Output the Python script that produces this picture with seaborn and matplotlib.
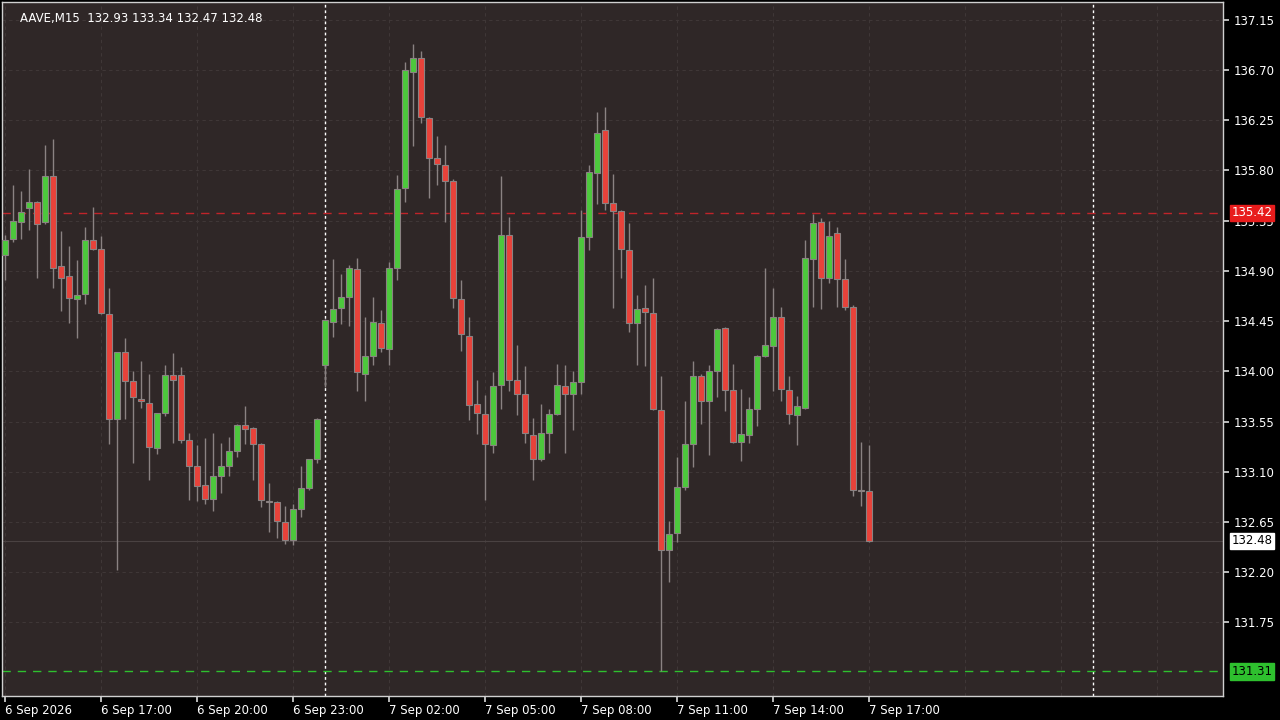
import numpy as np
import pandas as pd
import matplotlib
matplotlib.use("Agg")
import matplotlib.pyplot as plt
import seaborn as sns

# 15-minute candles, 6 Sep 2026 14:00 .. 7 Sep 2026 17:00
opens = [135.04, 135.19, 135.34, 135.46, 135.52, 135.34, 135.75, 134.94, 134.85, 134.65,
         134.69, 135.18, 135.10, 134.51, 133.57, 134.17, 133.91, 133.75, 133.72, 133.31,
         133.63, 133.97, 133.97, 133.38, 133.15, 132.98, 132.86, 133.06, 133.15, 133.29,
         133.52, 133.49, 133.35, 132.84, 132.83, 132.65, 132.49, 132.77, 132.95, 133.21,
         134.06, 134.44, 134.57, 134.67, 134.92, 133.98, 134.14, 134.43, 134.20, 134.93,
         135.64, 136.68, 136.81, 136.27, 135.91, 135.85, 135.71, 134.65, 134.32, 133.71,
         133.62, 133.34, 133.88, 135.22, 133.92, 133.80, 133.43, 133.21, 133.45, 133.62,
         133.87, 133.80, 133.90, 135.20, 135.78, 136.16, 135.51, 135.44, 135.09, 134.43,
         134.57, 134.52, 133.65, 132.40, 132.55, 132.96, 133.35, 133.96, 133.73, 134.00,
         134.39, 133.83, 133.37, 133.43, 133.66, 134.14, 134.23, 134.49, 133.83, 133.61,
         133.67, 135.01, 135.34, 134.84, 135.24, 134.83, 134.58, 132.94, 132.93]
highs = [135.22, 135.67, 135.62, 135.81, 135.53, 136.03, 136.08, 135.26, 135.12, 135.00,
         135.29, 135.47, 135.21, 134.75, 134.17, 134.30, 134.00, 134.09, 133.98, 133.63,
         134.06, 134.16, 134.04, 133.45, 133.34, 133.40, 133.45, 133.36, 133.41, 133.53,
         133.69, 133.50, 133.36, 133.00, 132.84, 132.79, 132.81, 133.15, 132.96, 133.58,
         134.47, 135.01, 134.87, 134.95, 135.02, 134.49, 134.67, 134.55, 134.98, 135.76,
         136.77, 136.93, 136.87, 136.28, 136.11, 136.03, 135.72, 134.82, 134.49, 133.92,
         133.79, 133.99, 135.75, 135.38, 134.24, 134.05, 133.58, 133.71, 133.66, 134.07,
         134.06, 134.00, 135.45, 135.85, 136.32, 136.37, 135.77, 135.45, 135.33, 134.68,
         134.77, 134.84, 133.96, 132.66, 133.23, 133.73, 134.09, 133.98, 134.06, 134.39,
         134.40, 134.07, 133.84, 133.77, 134.15, 134.93, 134.75, 134.58, 133.96, 133.78,
         135.18, 135.41, 135.37, 135.35, 135.29, 135.01, 134.59, 133.37, 133.34]
lows = [134.82, 135.16, 135.19, 135.27, 134.84, 135.32, 134.75, 134.54, 134.43, 134.30,
        134.60, 135.09, 134.51, 133.35, 132.22, 133.57, 133.18, 133.67, 133.03, 133.26,
        133.60, 133.36, 133.36, 132.85, 132.84, 132.81, 132.75, 132.91, 133.06, 133.23,
        133.35, 133.03, 132.78, 132.56, 132.51, 132.45, 132.44, 132.69, 132.94, 133.18,
        133.86, 134.31, 134.42, 134.41, 133.82, 133.73, 134.06, 134.17, 134.06, 134.82,
        135.52, 136.02, 136.23, 135.55, 135.67, 135.34, 134.57, 134.18, 133.56, 133.44,
        132.85, 133.27, 133.66, 133.82, 133.61, 133.36, 133.03, 133.20, 133.27, 133.61,
        133.27, 133.47, 133.80, 135.09, 135.50, 135.45, 134.57, 134.84, 134.35, 134.06,
        134.05, 133.65, 131.31, 132.11, 132.47, 132.94, 133.14, 133.53, 133.25, 133.77,
        133.64, 133.36, 133.20, 133.36, 133.51, 134.13, 133.82, 133.73, 133.53, 133.34,
        133.66, 134.58, 134.56, 134.79, 134.58, 134.55, 132.88, 132.79, 132.47]
closes = [135.18, 135.35, 135.43, 135.52, 135.32, 135.75, 134.93, 134.84, 134.66, 134.68,
          135.18, 135.10, 134.52, 133.57, 134.17, 133.91, 133.77, 133.73, 133.32, 133.63,
          133.97, 133.92, 133.38, 133.15, 132.97, 132.86, 133.06, 133.15, 133.29, 133.52,
          133.48, 133.35, 132.85, 132.83, 132.66, 132.49, 132.77, 132.95, 133.21, 133.57,
          134.46, 134.56, 134.67, 134.93, 133.99, 134.14, 134.44, 134.21, 134.93, 135.63,
          136.70, 136.81, 136.28, 135.91, 135.86, 135.71, 134.66, 134.33, 133.70, 133.63,
          133.35, 133.87, 135.22, 133.92, 133.80, 133.45, 133.21, 133.45, 133.62, 133.88,
          133.80, 133.90, 135.20, 135.79, 136.14, 135.51, 135.44, 135.10, 134.43, 134.56,
          134.53, 133.66, 132.40, 132.54, 132.96, 133.35, 133.96, 133.73, 134.00, 134.38,
          133.83, 133.37, 133.44, 133.66, 134.14, 134.24, 134.49, 133.84, 133.62, 133.69,
          135.02, 135.33, 134.84, 135.21, 134.83, 134.58, 132.94, 132.93, 132.48]

price_ticks = [137.15, 136.70, 136.25, 135.80, 135.35, 134.90, 134.45, 134.00,
               133.55, 133.10, 132.65, 132.20, 131.75]
time_labels = ["6 Sep 2026", "6 Sep 17:00", "6 Sep 20:00", "6 Sep 23:00", "7 Sep 02:00",
               "7 Sep 05:00", "7 Sep 08:00", "7 Sep 11:00", "7 Sep 14:00", "7 Sep 17:00"]
day_breaks = [40, 136]
ref_price = 135.42
low_price = 131.31
last_price = 132.48

df = pd.DataFrame({"open": opens, "high": highs, "low": lows, "close": closes})
df["idx"] = np.arange(len(df))
df["up"] = df["close"] >= df["open"]

sns.set_theme(style="dark")
plt.rcParams["font.family"] = ["DejaVu Sans"]

bg = "#2f2727"
fg = "#ffffff"
green = "#4cc83c"
red = "#e8423a"
wick = "#8a8282"

fig = plt.figure(figsize=(12.8, 7.2), dpi=100, facecolor="#000000")
ax = fig.add_axes([2 / 1280, 24 / 720, 1221 / 1280, 694 / 720])
ax.set_facecolor(bg)

ax.set_xlim(-0.4, 152.2)
ax.set_ylim(131.09, 137.31)

# grid
for p in price_ticks:
    ax.axhline(p, color="#3f3737", lw=0.8, ls=(0, (3, 3)), zorder=0)
for i in range(0, 153, 12):
    ax.axvline(i, color="#3f3737", lw=0.8, ls=(0, (3, 3)), zorder=0)
for d in day_breaks:
    ax.axvline(d, color="#ffffff", lw=1.0, ls=(0, (2, 2)), zorder=1)

ax.axhline(ref_price, color="#c0242a", lw=1.0, ls=(0, (6, 5)), zorder=1)
ax.axhline(low_price, color="#2ec02e", lw=1.0, ls=(0, (6, 5)), zorder=1)
ax.axhline(last_price, color="#4a4242", lw=0.8, zorder=1)

# candles
ax.vlines(df["idx"], df["low"], df["high"], color=wick, lw=1.0, zorder=2)
bottoms = np.minimum(df["open"], df["close"])
heights = np.maximum(np.abs(df["close"] - df["open"]), 0.01)
colors = [green if u else red for u in df["up"]]
ax.bar(df["idx"], heights, bottom=bottoms, width=0.72, color=colors,
       edgecolor=wick, linewidth=0.8, zorder=3)

# axes style
for s in ax.spines.values():
    s.set_color("#d0d0d0")
    s.set_linewidth(1.0)
ax.yaxis.tick_right()
ax.set_yticks(price_ticks)
ax.set_yticklabels([f"{p:.2f}" for p in price_ticks], color=fg, fontsize=8.5)
ax.tick_params(axis="y", length=4, color="#d0d0d0", pad=4, right=True)
ax.set_xticks(range(0, 12 * len(time_labels), 12))
ax.set_xticklabels(time_labels, color=fg, fontsize=8.5, ha="left")
ax.tick_params(axis="x", length=4, color="#d0d0d0", pad=2, bottom=True)
for lbl in ax.get_xticklabels():
    lbl.set_x(lbl.get_position()[0])
ax.grid(False)

# price boxes on the right axis
def price_box(y, text, face, tc):
    ax.annotate(text, xy=(1.0, y), xycoords=("axes fraction", "data"),
                xytext=(6, 0), textcoords="offset points", ha="left", va="center",
                fontsize=8.5, color=tc,
                bbox=dict(boxstyle="square,pad=0.15", fc=face, ec=face))

price_box(ref_price, f"{ref_price:.2f}", "#e81c1c", "#ffffff")
price_box(last_price, f"{last_price:.2f}", "#ffffff", "#000000")
price_box(low_price, f"{low_price:.2f}", "#2ec02e", "#000000")

ax.text(0.015, 0.985, f"AAVE,M15  {opens[-1]:.2f} {highs[-1]:.2f} {lows[-1]:.2f} {closes[-1]:.2f}",
        transform=ax.transAxes, color=fg, fontsize=8.5, ha="left", va="top")

fig.savefig("out.png", dpi=100, facecolor=fig.get_facecolor())
